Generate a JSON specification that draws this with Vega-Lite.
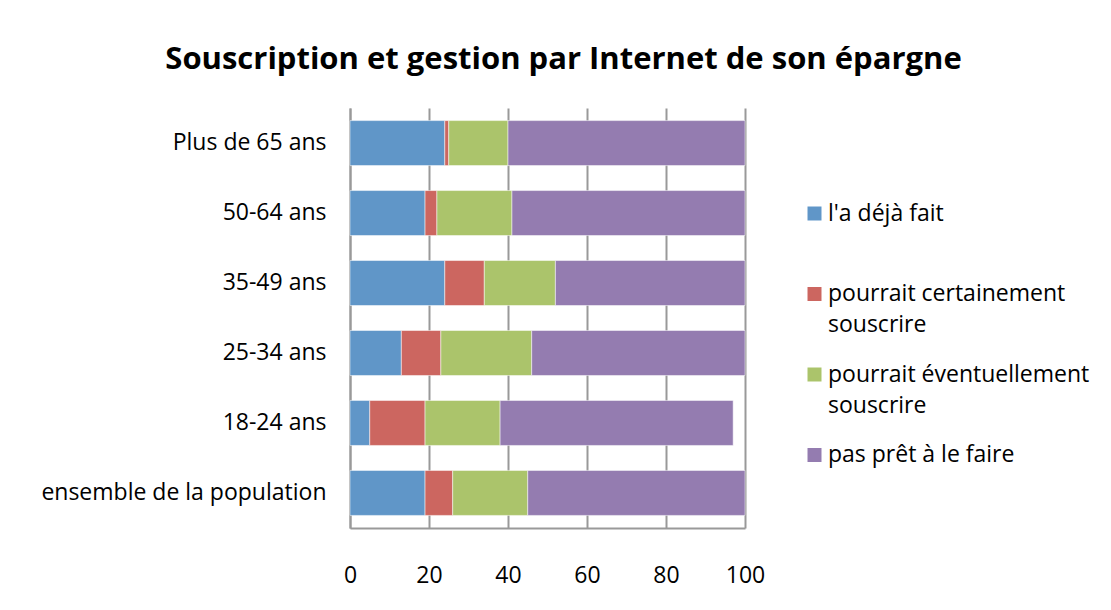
{
  "$schema": "https://vega.github.io/schema/vega-lite/v6.json",
  "autosize": {"type": "none"},
  "padding": {"left": 350, "top": 108, "right": 366, "bottom": 82},
  "width": 395,
  "height": 420,
  "background": "white",
  "title": {
    "text": "Souscription et gestion par Internet de son épargne",
    "font": "Open Sans",
    "fontSize": 31,
    "fontWeight": "bold",
    "color": "#000000",
    "anchor": "middle",
    "dx": 16,
    "offset": 32
  },
  "data": {
    "values": [
      {"groupe": "Plus de 65 ans", "reponse": "l'a déjà fait", "rang": 1, "valeur": 24},
      {"groupe": "Plus de 65 ans", "reponse": "pourrait certainement souscrire", "rang": 2, "valeur": 1},
      {"groupe": "Plus de 65 ans", "reponse": "pourrait éventuellement souscrire", "rang": 3, "valeur": 15},
      {"groupe": "Plus de 65 ans", "reponse": "pas prêt à le faire", "rang": 4, "valeur": 60},
      {"groupe": "50-64 ans ", "reponse": "l'a déjà fait", "rang": 1, "valeur": 19},
      {"groupe": "50-64 ans ", "reponse": "pourrait certainement souscrire", "rang": 2, "valeur": 3},
      {"groupe": "50-64 ans ", "reponse": "pourrait éventuellement souscrire", "rang": 3, "valeur": 19},
      {"groupe": "50-64 ans ", "reponse": "pas prêt à le faire", "rang": 4, "valeur": 59},
      {"groupe": "35-49 ans", "reponse": "l'a déjà fait", "rang": 1, "valeur": 24},
      {"groupe": "35-49 ans", "reponse": "pourrait certainement souscrire", "rang": 2, "valeur": 10},
      {"groupe": "35-49 ans", "reponse": "pourrait éventuellement souscrire", "rang": 3, "valeur": 18},
      {"groupe": "35-49 ans", "reponse": "pas prêt à le faire", "rang": 4, "valeur": 48},
      {"groupe": "25-34 ans", "reponse": "l'a déjà fait", "rang": 1, "valeur": 13},
      {"groupe": "25-34 ans", "reponse": "pourrait certainement souscrire", "rang": 2, "valeur": 10},
      {"groupe": "25-34 ans", "reponse": "pourrait éventuellement souscrire", "rang": 3, "valeur": 23},
      {"groupe": "25-34 ans", "reponse": "pas prêt à le faire", "rang": 4, "valeur": 54},
      {"groupe": "18-24 ans", "reponse": "l'a déjà fait", "rang": 1, "valeur": 5},
      {"groupe": "18-24 ans", "reponse": "pourrait certainement souscrire", "rang": 2, "valeur": 14},
      {"groupe": "18-24 ans", "reponse": "pourrait éventuellement souscrire", "rang": 3, "valeur": 19},
      {"groupe": "18-24 ans", "reponse": "pas prêt à le faire", "rang": 4, "valeur": 59},
      {"groupe": "ensemble de la population", "reponse": "l'a déjà fait", "rang": 1, "valeur": 19},
      {"groupe": "ensemble de la population", "reponse": "pourrait certainement souscrire", "rang": 2, "valeur": 7},
      {"groupe": "ensemble de la population", "reponse": "pourrait éventuellement souscrire", "rang": 3, "valeur": 19},
      {"groupe": "ensemble de la population", "reponse": "pas prêt à le faire", "rang": 4, "valeur": 55}
    ]
  },
  "mark": {"type": "bar", "stroke": "white", "strokeWidth": 0.5},
  "encoding": {
    "y": {
      "field": "groupe",
      "type": "nominal",
      "sort": ["Plus de 65 ans", "50-64 ans ", "35-49 ans", "25-34 ans", "18-24 ans", "ensemble de la population"],
      "scale": {"paddingInner": 0.357, "paddingOuter": 0.18},
      "axis": {
        "title": null,
        "ticks": false,
        "domain": true,
        "domainColor": "#999999",
        "domainWidth": 2,
        "labelFont": "Open Sans",
        "labelFontSize": 23,
        "labelColor": "#000000",
        "labelPadding": 24,
        "labelLimit": 340,
        "labelExpr": "datum.value == '50-64 ans ' ? '50-64 ans\u00a0' : datum.value"
      }
    },
    "x": {
      "field": "valeur",
      "type": "quantitative",
      "stack": "zero",
      "scale": {"domain": [0, 100], "nice": false},
      "axis": {
        "title": null,
        "values": [0, 20, 40, 60, 80, 100],
        "ticks": false,
        "grid": true,
        "gridColor": "#999999",
        "gridWidth": 2,
        "domain": true,
        "domainColor": "#999999",
        "domainWidth": 2,
        "labelFont": "Open Sans",
        "labelFontSize": 23,
        "labelColor": "#000000",
        "labelPadding": 36,
        "labelFlush": false
      }
    },
    "color": {
      "field": "reponse",
      "type": "nominal",
      "sort": ["l'a déjà fait", "pourrait certainement souscrire", "pourrait éventuellement souscrire", "pas prêt à le faire"],
      "scale": {
        "domain": ["l'a déjà fait", "pourrait certainement souscrire", "pourrait éventuellement souscrire", "pas prêt à le faire"],
        "range": ["#6096C8", "#CC6660", "#ABC46B", "#947CB0"]
      },
      "legend": {
        "title": null,
        "orient": "none",
        "legendX": 453,
        "legendY": 94,
        "symbolType": "square",
        "symbolSize": 196,
        "symbolStrokeWidth": 0,
        "symbolOpacity": 1,
        "labelFont": "Open Sans",
        "labelFontSize": 23,
        "labelColor": "#000000",
        "labelLimit": 400,
        "labelOffset": 2,
        "labelBaseline": "middle",
        "gridAlign": "all",
        "rowPadding": 25.5,
        "labelExpr": "datum.label == 'pourrait certainement souscrire' ? ['pourrait certainement', 'souscrire'] : datum.label == 'pourrait éventuellement souscrire' ? ['pourrait éventuellement', 'souscrire'] : datum.label"
      }
    },
    "order": {"field": "rang", "type": "quantitative", "sort": "ascending"}
  },
  "config": {
    "view": {"stroke": null},
    "style": {"guide-label": {"lineHeight": 31}}
  }
}
